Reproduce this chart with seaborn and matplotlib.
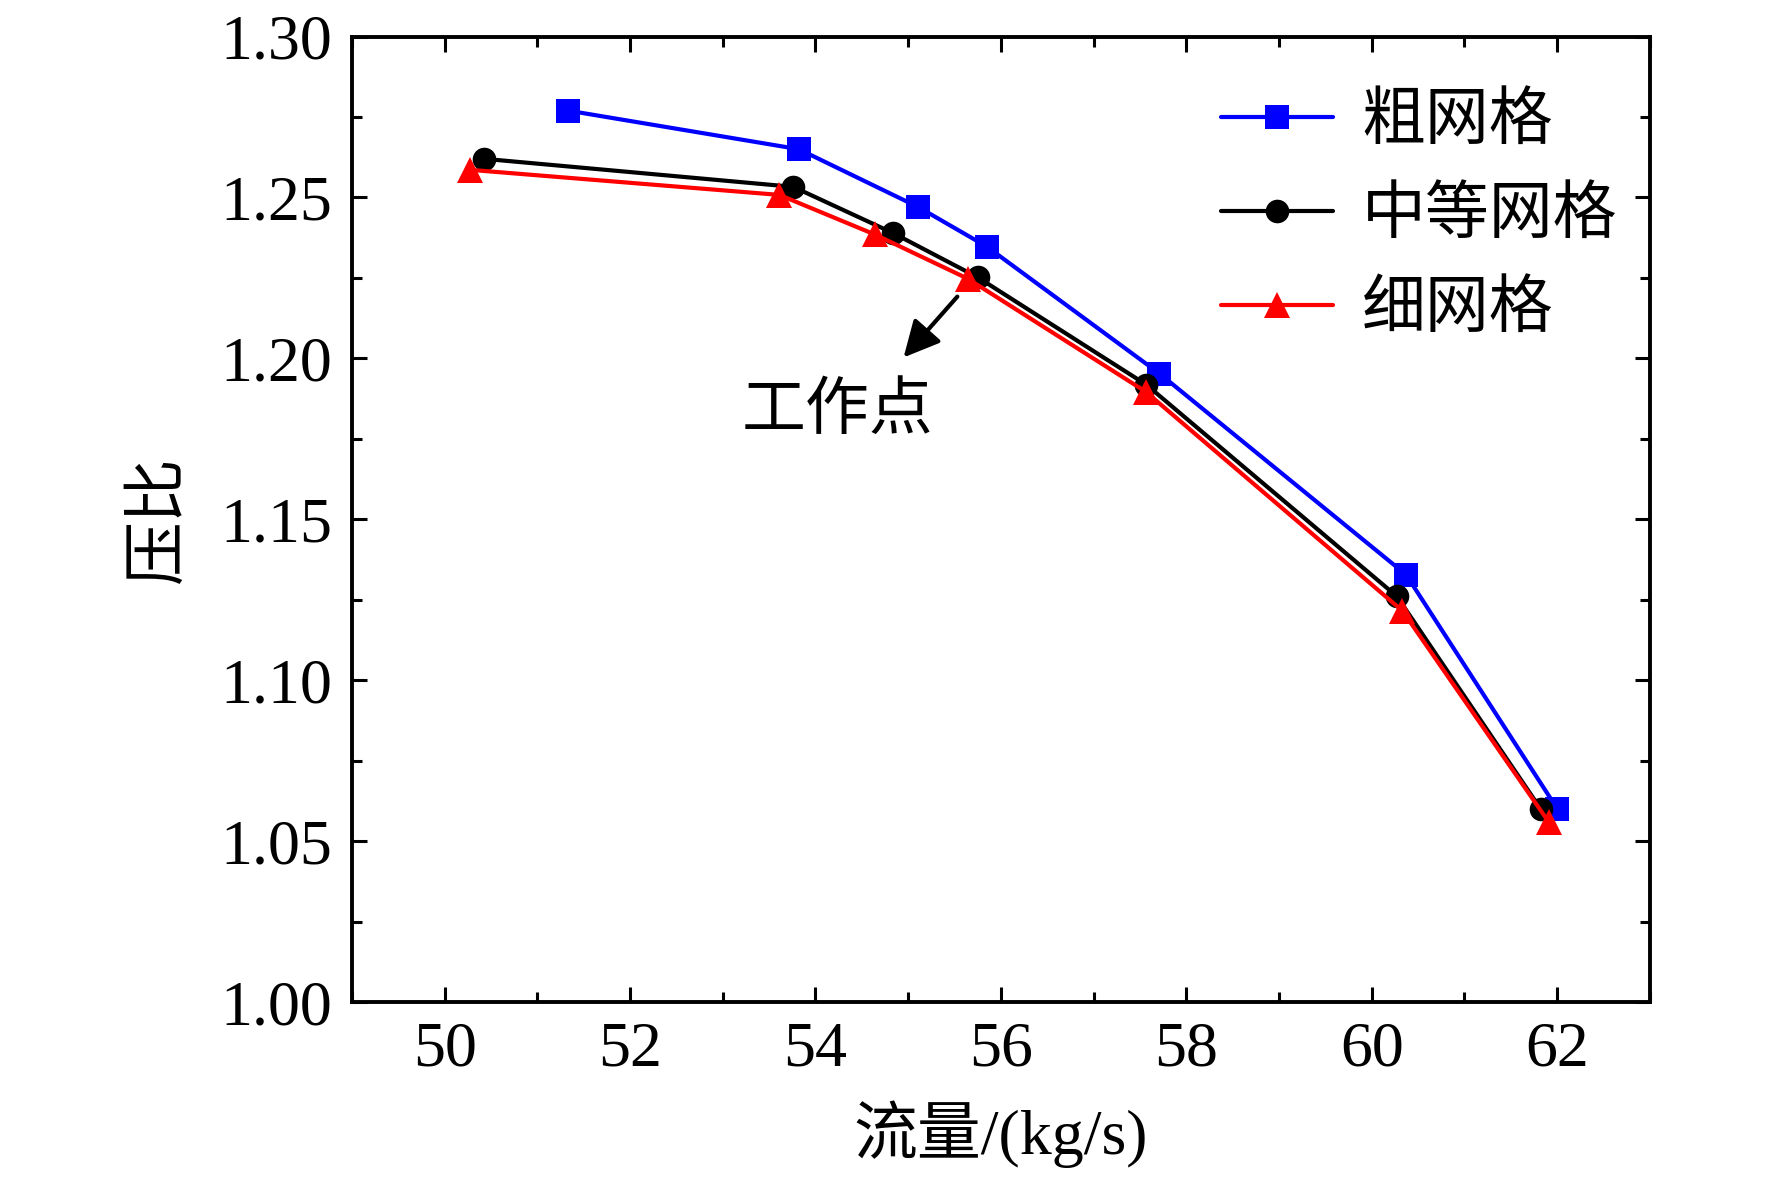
import numpy as np
import pandas as pd
import seaborn as sns
import matplotlib
matplotlib.use("Agg")
from matplotlib import pyplot as plt
from matplotlib.ticker import MultipleLocator

# data
coarse_x = [51.33, 53.82, 55.11, 55.85, 57.71, 60.37, 62.00]
coarse_y = [1.277, 1.265, 1.247, 1.2347, 1.1953, 1.1328, 1.0601]
medium_x = [50.43, 53.76, 54.84, 55.75, 57.57, 60.27, 61.82]
medium_y = [1.262, 1.2533, 1.2389, 1.2252, 1.1918, 1.1261, 1.0601]
fine_x = [50.27, 53.61, 54.64, 55.64, 57.56, 60.33, 61.91]
fine_y = [1.2586, 1.2508, 1.2385, 1.2248, 1.1897, 1.1216, 1.0559]
labels = ["粗网格", "中等网格", "细网格"]

sns.set_theme(style="ticks")
plt.rcParams['font.family'] = ['Liberation Serif', 'Noto Sans CJK SC']
plt.rcParams['axes.unicode_minus'] = False
plt.rcParams['text.color'] = 'black'
plt.rcParams['axes.labelcolor'] = 'black'

fig = plt.figure(figsize=(17.72, 11.79), dpi=100)
ax = fig.add_axes([0.1986, 0.150, 0.7325, 0.819])

series = [
    (coarse_x, coarse_y, labels[0], "#0000ff", "s", 17),
    (medium_x, medium_y, labels[1], "#000000", "o", 17),
    (fine_x, fine_y, labels[2], "#ff0000", "^", 19),
]
for xs, ys, lab, col, mk, ms in series:
    sns.lineplot(x=xs, y=ys, ax=ax, color=col, marker=mk, markersize=ms,
                 markeredgewidth=0, linewidth=3, label=lab, sort=False)

ax.set_xlim(49, 63)
ax.set_ylim(1.00, 1.30)
ax.xaxis.set_major_locator(MultipleLocator(2))
ax.xaxis.set_minor_locator(MultipleLocator(1))
ax.yaxis.set_major_locator(MultipleLocator(0.05))
ax.yaxis.set_minor_locator(MultipleLocator(0.025))
ax.yaxis.set_major_formatter(matplotlib.ticker.FormatStrFormatter("%.2f"))

ax.tick_params(which="both", direction="in", top=True, right=True,
               labelsize=46, width=2.2, colors="black")
ax.tick_params(which="major", length=11, pad=14)
ax.tick_params(which="minor", length=7)
for sp in ax.spines.values():
    sp.set_linewidth(2.8)
    sp.set_color("black")

ax.set_xlabel("流量/(kg/s)", fontsize=46, labelpad=15)
ax.set_ylabel("压比", fontsize=46, labelpad=22)

# arrow to operating point
ax.annotate("", xy=(54.95, 1.2003), xytext=(55.53, 1.2192),
            arrowprops=dict(arrowstyle="-|>", lw=3, color="black",
                            mutation_scale=55, shrinkA=0, shrinkB=0))
ax.text(54.24, 1.183, "工作点", fontsize=46, ha="center", va="center")

leg = ax.legend(loc="upper left", bbox_to_anchor=(0.64, 0.98), frameon=False,
                fontsize=46, handlelength=1.75, handletextpad=0.45,
                labelspacing=0.55, borderaxespad=0.2)

fig.savefig("out.png", dpi=100)
